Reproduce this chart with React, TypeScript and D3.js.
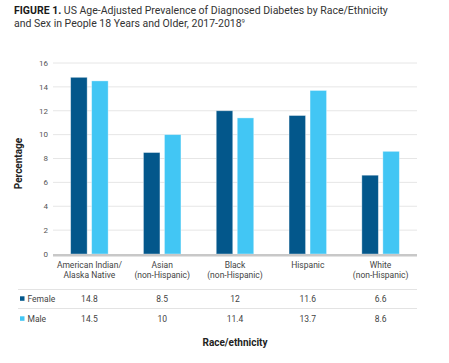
import * as d3 from "d3";

const CATEGORIES = [
  ["American Indian/", "Alaska Native"],
  ["Asian", "(non-Hispanic)"],
  ["Black", "(non-Hispanic)"],
  ["Hispanic"],
  ["White", "(non-Hispanic)"],
];
const FEMALE = [14.8, 8.5, 12, 11.6, 6.6];
const MALE = [14.5, 10, 11.4, 13.7, 8.6];
const FEMALE_LABELS = ["14.8", "8.5", "12", "11.6", "6.6"];
const MALE_LABELS = ["14.5", "10", "11.4", "13.7", "8.6"];
const Y_TICKS = [0, 2, 4, 6, 8, 10, 12, 14, 16];

const SERIES = [
  { key: "Female", colour: "#03578b", values: FEMALE, labels: FEMALE_LABELS },
  { key: "Male", colour: "#42c6f4", values: MALE, labels: MALE_LABELS },
];

const FONT = "Roboto, 'Open Sans', sans-serif";
const W = 449;
const H = 363;
const PLOT = { left: 53, right: 417, top: 63, bottom: 254 };

export default function App() {
  const x = d3
    .scaleBand<number>()
    .domain(d3.range(CATEGORIES.length))
    .range([PLOT.left, PLOT.right]);
  const y = d3.scaleLinear().domain([0, 16]).range([PLOT.bottom, PLOT.top]);
  const barW = 16.5;
  const gap = 4.5;

  return (
    <svg
      width={W}
      height={H}
      style={{ position: "absolute", left: 0, top: 0, background: "#fff" }}
      fontFamily={FONT}
    >
      <text x={14} y={14} fontSize={10.5} fill="#333">
        <tspan fontWeight="bold" fill="#1a1a1a">FIGURE 1.</tspan>
        <tspan> US Age-Adjusted Prevalence of Diagnosed Diabetes by Race/Ethnicity</tspan>
      </text>
      <text x={14} y={26.5} fontSize={10.5} fill="#333">
        and Sex in People 18 Years and Older, 2017-2018
        <tspan fontSize={6} dy={-4}>9</tspan>
      </text>

      {/* grid */}
      {Y_TICKS.map((t) => (
        <g key={t}>
          {t > 0 && (
            <line
              x1={PLOT.left}
              x2={PLOT.right}
              y1={y(t)}
              y2={y(t)}
              stroke="#e6e6e6"
              strokeWidth={1}
            />
          )}
          <text
            x={48}
            y={y(t)}
            dy="0.35em"
            textAnchor="end"
            fontSize={8}
            fill="#555"
          >
            {t}
          </text>
        </g>
      ))}

      <text
        transform={`translate(22, ${(PLOT.top + PLOT.bottom) / 2 + 5}) rotate(-90)`}
        textAnchor="middle"
        fontSize={10}
        fontWeight="bold"
        fill="#222"
      >
        Percentage
      </text>

      {/* bars */}
      {CATEGORIES.map((_, i) => {
        const cx = x(i)! + x.bandwidth() / 2;
        return SERIES.map((s, j) => {
          const bx = j === 0 ? cx - gap / 2 - barW : cx + gap / 2;
          return (
            <rect
              key={`${s.key}-${i}`}
              x={bx}
              y={y(s.values[i])}
              width={barW}
              height={PLOT.bottom - y(s.values[i])}
              fill={s.colour}
              stroke="rgba(255,255,255,0.45)"
              strokeWidth={0.8}
            />
          );
        });
      })}

      <line
        x1={PLOT.left}
        x2={PLOT.right}
        y1={PLOT.bottom + 1.2}
        y2={PLOT.bottom + 1.2}
        stroke="#c8c8c8"
        strokeWidth={2.5}
      />

      {/* category labels */}
      {CATEGORIES.map((lines, i) => {
        const cx = x(i)! + x.bandwidth() / 2;
        return (
          <text key={i} x={cx} y={268} textAnchor="middle" fontSize={8.5} fill="#444">
            {lines.map((l, k) => (
              <tspan key={k} x={cx} dy={k === 0 ? 0 : 10.3}>
                {l}
              </tspan>
            ))}
          </text>
        );
      })}

      {/* data table */}
      <line x1={18} x2={PLOT.right} y1={289.5} y2={289.5} stroke="#e3e3e3" />
      <line x1={18} x2={PLOT.right} y1={308.5} y2={308.5} stroke="#e3e3e3" />
      {SERIES.map((s, j) => {
        const ry = 299 + j * 20;
        return (
          <g key={s.key}>
            <rect x={20} y={ry - 2.7} width={4.5} height={4.5} fill={s.colour} />
            <text x={27.5} y={ry} dy="0.35em" fontSize={8.5} fill="#444">
              {s.key}
            </text>
            {s.labels.map((v, i) => (
              <text
                key={i}
                x={x(i)! + x.bandwidth() / 2}
                y={ry}
                dy="0.35em"
                textAnchor="middle"
                fontSize={8.5}
                fill="#444"
              >
                {v}
              </text>
            ))}
          </g>
        );
      })}

      <text
        x={235}
        y={346}
        textAnchor="middle"
        fontSize={10}
        fontWeight="bold"
        fill="#222"
      >
        Race/ethnicity
      </text>
    </svg>
  );
}
